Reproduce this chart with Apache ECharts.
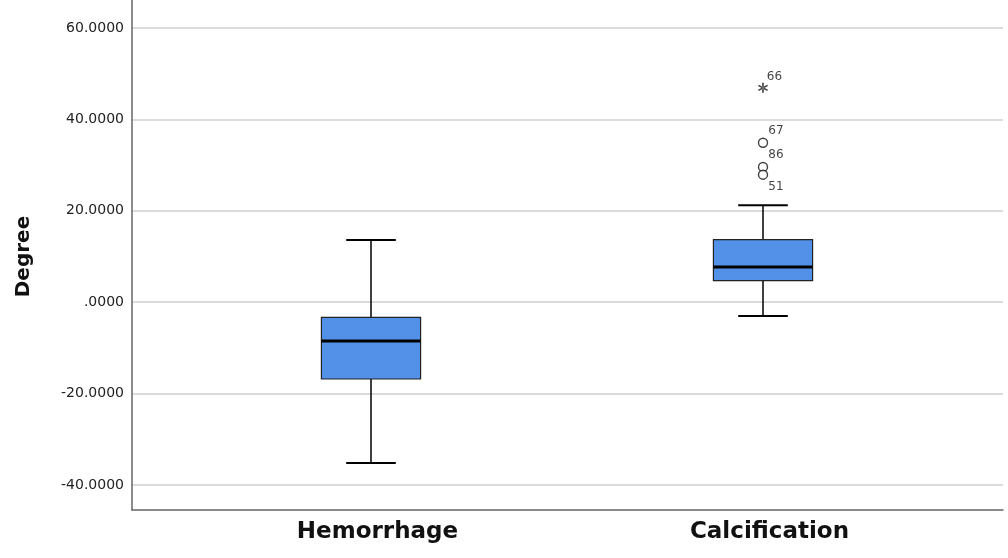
<!DOCTYPE html>
<html><head><meta charset="utf-8">
<script src="https://cdn.jsdelivr.net/npm/echarts@6/dist/echarts.min.js"></script>
<style>html,body{margin:0;padding:0;background:#fff}#c{width:1008px;height:558px}</style>
</head><body><div id="c"></div>
<script>
const categories = ['Hemorrhage', 'Calcification'];
// [min whisker, Q1, median, Q3, max whisker]
const boxStats = [
  [-35.2, -16.8, -8.5, -3.3, 13.6],
  [-3.0, 4.7, 7.7, 13.7, 21.2]
];
const outlierValues = [34.9, 29.6, 27.9];
const outlierIds = ['67', '86', '51'];
const extremeValues = [46.9];
const extremeIds = ['66'];
const yTicks = [-40, -20, 0, 20, 40, 60];

const chart = echarts.init(document.getElementById('c'));
const FONT = 'DejaVu Sans';
function fmt(v){ if (v === 0) return '.0000'; return v.toFixed(4); }

const star = 'path://M8.6 1 L11.4 1 L11.4 19 L8.6 19 Z M17.09 15.71 L18.49 13.29 L2.91 4.29 L1.51 6.71 Z M18.49 6.71 L17.09 4.29 L1.51 13.29 L2.91 15.71 Z';

const boxData = boxStats.map((s, i) => [i].concat(s));

chart.setOption({
  animation: false,
  grid: [
    {left: 132, right: 5, top: 0, bottom: 48},
    {left: 132, right: 5, top: 28, bottom: 73},
    {left: 175, right: 49, top: 28, bottom: 73}
  ],
  xAxis: [
    {gridIndex: 0, type: 'category', data: categories, axisLine: {onZero: false, lineStyle: {color: '#666', width: 1.5}}, axisTick: {show: false}, axisLabel: {show: false}},
    {gridIndex: 1, type: 'category', data: categories, show: false},
    {gridIndex: 2, type: 'category', data: categories, axisLine: {show: false, onZero: false}, axisTick: {show: false},
     axisLabel: {margin: 36, padding: [0, 0, 0, 13], fontFamily: FONT, fontWeight: 'bold', fontSize: 23, color: '#111'}}
  ],
  yAxis: [
    {gridIndex: 0, type: 'value', min: -45.47, max: 66.1, axisLine: {show: true, onZero: false, lineStyle: {color: '#666', width: 1.5}}, axisTick: {show: false}, axisLabel: {show: false}, splitLine: {show: false}},
    {gridIndex: 1, type: 'value', min: yTicks[0], max: yTicks[yTicks.length-1], interval: 20,
     axisLine: {show: false}, axisTick: {show: false},
     axisLabel: {formatter: fmt, fontFamily: FONT, fontSize: 14, color: '#222', margin: 8},
     splitLine: {lineStyle: {color: '#cfcfcf', width: 1.5}},
     name: 'Degree', nameLocation: 'middle', nameGap: 98, nameRotate: 90,
     nameTextStyle: {fontFamily: FONT, fontWeight: 'bold', fontSize: 20, color: '#111'}},
    {gridIndex: 2, type: 'value', min: yTicks[0], max: yTicks[yTicks.length-1], interval: 20, show: false, splitLine: {show: false}}
  ],
  series: [
    {
      type: 'custom', xAxisIndex: 2, yAxisIndex: 2, data: boxData,
      encode: {x: 0, y: [1, 2, 3, 4, 5]},
      renderItem: function(params, api){
        const idx = api.value(0);
        const band = api.size([1, 0])[0];
        const bw = band * 0.253, cw = bw / 2;
        const p = k => api.coord([idx, api.value(k)]);
        const lo = p(1), q1 = p(2), md = p(3), q3 = p(4), hi = p(5);
        const x = lo[0];
        const ls = {stroke: '#000', lineWidth: 1.5};
        return {type: 'group', children: [
          {type: 'line', shape: {x1: x, y1: hi[1], x2: x, y2: q3[1]}, style: ls},
          {type: 'line', shape: {x1: x, y1: q1[1], x2: x, y2: lo[1]}, style: ls},
          {type: 'line', shape: {x1: x - cw/2, y1: hi[1], x2: x + cw/2, y2: hi[1]}, style: {stroke: '#000', lineWidth: 2}},
          {type: 'line', shape: {x1: x - cw/2, y1: lo[1], x2: x + cw/2, y2: lo[1]}, style: {stroke: '#000', lineWidth: 2}},
          {type: 'rect', shape: {x: x - bw/2, y: q3[1], width: bw, height: q1[1] - q3[1]}, style: {fill: '#5291e7', stroke: '#222', lineWidth: 1.2}},
          {type: 'line', shape: {x1: x - bw/2, y1: md[1], x2: x + bw/2, y2: md[1]}, style: {stroke: '#000', lineWidth: 3}}
        ]};
      }
    },
    {
      type: 'scatter', xAxisIndex: 2, yAxisIndex: 2,
      symbol: 'circle', symbolSize: 9,
      itemStyle: {color: '#ffffff', borderColor: '#111', borderWidth: 1.4},
      data: outlierValues.map((v, i) => ({
        value: [1, v],
        label: {show: true, formatter: outlierIds[i], position: 'inside',
          offset: i === 2 ? [13, 12.5] : [13, -11.7],
          fontFamily: FONT, fontSize: 12, color: '#111'}
      }))
    },
    {
      type: 'scatter', xAxisIndex: 2, yAxisIndex: 2,
      symbol: star, symbolSize: 10,
      itemStyle: {color: '#111'},
      data: extremeValues.map((v, i) => ({
        value: [1, v],
        label: {show: true, formatter: extremeIds[i], position: 'inside', offset: [11.5, -10.7],
          fontFamily: FONT, fontSize: 12, color: '#111'}
      }))
    }
  ]
});
</script>
</body></html>
